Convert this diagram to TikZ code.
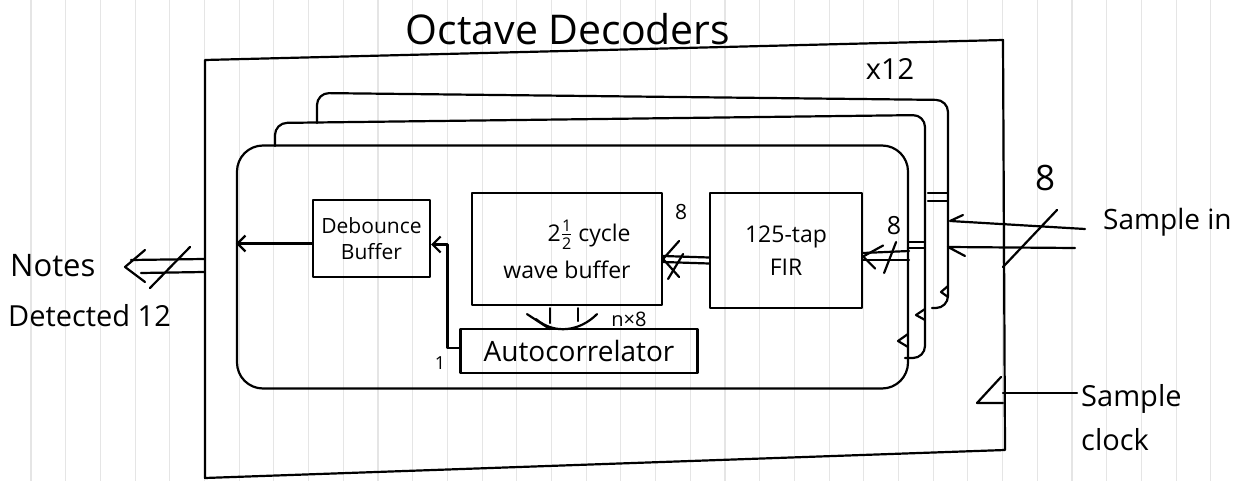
\documentclass[tikz,border=0pt]{standalone}
\usepackage{fontspec}
\usepackage{amsmath}
\setmainfont{Open Sans}
\usetikzlibrary{arrows.meta,calc}
\newcommand\myfs[2]{\fontsize{#1}{#2}\selectfont}
\begin{document}
\begin{tikzpicture}[x=1pt,y=-1pt,
  ink/.style={line width=2.2pt,draw=black,line cap=round,line join=round},
  blk/.style={ink,rectangle,inner sep=0pt,align=center},
  txt/.style={inner sep=0pt,align=center,text=black},
  ruling/.style={draw=black!10,line width=1.1pt},
  barb/.style={-{Straight Barb[length=8pt,width=16pt,line width=2.2pt]}}
]
\useasboundingbox (0,0) rectangle (1237,481);
\fill[white] (0,0) rectangle (1237,481);
\foreach \k in {0,...,34} \draw[ruling] ({31+34.7*\k},0) -- ({31+34.7*\k},481);

% outer box
\coordinate (oTL) at (205,60);
\coordinate (oTR) at (1003,40);
\coordinate (oBR) at (1005,450);
\coordinate (oBL) at (205,478);
\draw[ink] (oTL) -- (oTR) -- (oBR) -- (oBL) -- cycle;
\node[txt,font=\myfs{41}{44}] (title) at (568,29) {Octave Decoders};
\node[txt,font=\myfs{29}{30}] (times) at (890,69) {x12};

% stacked copies
\draw[ink,rounded corners=12pt] (317,123) -- (317,93) -- (948,100) -- (948,308) -- (932,308);
\draw[ink,rounded corners=12pt] (275,146) -- (275,123) -- (925,115) -- (925,358) -- (905,358);
\node[blk,draw,rounded corners=26pt,minimum width=671pt,minimum height=243pt] (front) at (572.5,267) {};

% bus pass marks and clock inputs on copies
\draw[ink] (928,193) -- (947,193) (928,201) -- (947,201);
\draw[ink] (908,242) -- (925,242) (908,248) -- (925,248);
\draw[ink] (948,286) -- (941,292) -- (948,297);
\draw[ink] (925,309) -- (916,315) -- (925,320);
\draw[ink] (908,334) -- (898,341) -- (908,347);

% blocks
\node[blk,draw,minimum width=117pt,minimum height=77pt,font=\myfs{21}{26}] (deb) at (371.5,238.5) {Debounce\\Buffer};
\node[blk,draw,minimum width=190pt,minimum height=112pt,align=right,font=\myfs{23}{37}] (wave) at (567,249) {\raisebox{-6pt}{2$\frac{\text{1}}{\text{2}}$ cycle}\\\raisebox{-6pt}{wave buffer}};
\node[blk,draw,minimum width=152pt,minimum height=115pt,font=\myfs{23}{33}] (fir) at (786,250.5) {125-tap\\FIR};
\node[blk,draw,minimum width=237pt,minimum height=44pt,font=\myfs{28}{30}] (auto) at (579,351) {Autocorrelator};

% debounce -> out of copy
\draw[ink,barb] ($(deb.west)+(0,5)$) coordinate (d1) -- (d1 -| front.west);

% autocorrelator -> debounce
\draw[ink,barb] ($(auto.west)+(0,-3)$) -- ++(-12,0) |- ($(deb.east)+(0,6)$);
\node[txt,font=\myfs{18}{20}] (one) at (440,363) {1};

% FIR -> wave buffer bus
\draw[ink] ($(fir.west)+(0,7)$) -- ($(wave.east)+(0,7)$);
\draw[ink] ($(fir.west)+(0,13)$) -- ($(wave.east)+(0,13)$);
\draw[ink] ($(wave.east)+(16,-8)$) -- ($(wave.east)+(0,10)$) -- ($(wave.east)+(16,28)$);
\draw[ink] ($(wave.east)+(5,30)$) -- ($(wave.east)+(20,5)$);
\node[txt,font=\myfs{21}{22}] (w8) at ($(wave.north east)+(18,20)$) {8};

% input -> FIR bus
\draw[ink] ($(fir.east)+(0,2.5)$) -- ($(front.east)+(0,-16)$);
\draw[ink] ($(fir.east)+(0,9.5)$) -- ($(front.east)+(0,-7)$);
\draw[ink] ($(fir.east)+(20,-5)$) -- ($(fir.east)+(0,6)$) -- ($(fir.east)+(12,18)$);
\draw[ink] ($(fir.east)+(21,22.5)$) -- ($(fir.east)+(33,-8.5)$);
\node[txt,font=\myfs{25}{26}] (f8) at ($(fir.east)+(31,-25)$) {8};

% wave buffer -> autocorrelator bus
\draw[ink] ($(wave.south)+(-40,8)$) -- ($(wave.south)+(-17,23)$);
\draw[ink] ($(wave.south)+(-31,13)$) .. controls ($(wave.south)+(-12,29)$) and ($(wave.south)+(13,25)$) .. ($(wave.south)+(30,8)$);
\draw[ink] ($(wave.south)+(-17,2)$) -- ($(wave.south)+(-17,17)$);
\draw[ink] ($(wave.south)+(11,2)$) -- ($(wave.south)+(11,15)$);
\node[txt,font=\myfs{20}{22}] (nx8) at (629,319) {n×8};

% notes detected output bus
\coordinate (oL1) at (204,259);
\coordinate (oL2) at (204,272);
\coordinate (nt) at (125,267);
\draw[ink] (oL1) -- ($(nt)+(6,-7)$);
\draw[ink] (oL2) -- ($(nt)+(16,6)$);
\draw[ink] ($(nt)+(20,-17)$) -- (nt) -- ($(nt)+(20,15)$);
\draw[ink] (150,288) -- (190,247);
\node[txt,anchor=west,font=\myfs{31}{32}] (notes) at (10,266) {Notes};
\node[txt,anchor=west,font=\myfs{29}{30}] (det) at (8,316) {Detected~12};

% sample in bus
\coordinate (si1) at (1085,229);
\coordinate (si2) at (1075,248);
\draw[ink] (si1) -- (950,221) -- (963,215);
\draw[ink] (si2) -- (948,247) -- (965,256);
\draw[ink] (1003,267) -- (1057,210);
\node[txt,font=\myfs{35}{36}] (s8) at (1045,178) {8};
\node[txt,anchor=west,font=\myfs{28}{29}] (sin) at (1103,222) {Sample in};

% sample clock
\coordinate (ck) at (1003,393);
\draw[ink] (ck) -- (1077,393);
\draw[ink] (1001,377) -- (977,403) -- (1003,403);
\node[txt,anchor=west,align=left,font=\myfs{29}{44}] (sclk) at (1081,418) {Sample\\clock};
\end{tikzpicture}
\end{document}
